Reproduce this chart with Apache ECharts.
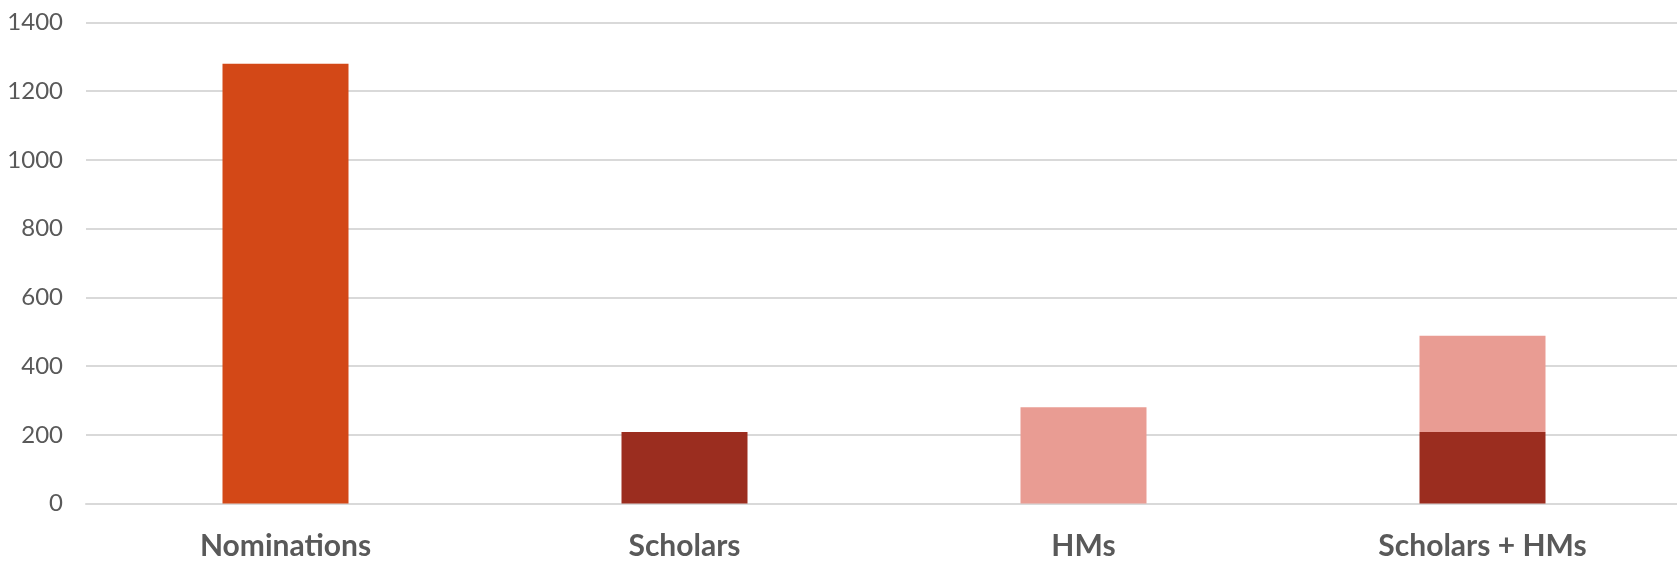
<!DOCTYPE html>
<html>
<head>
<meta charset="utf-8">
<script src="https://cdn.jsdelivr.net/npm/echarts@6/dist/echarts.min.js"></script>
<style>html,body{margin:0;padding:0;background:#fff;}#c{width:1677px;height:564px;}</style>
</head>
<body>
<div id="c"></div>
<script>
const categories = ['Nominations', 'Scholars', 'HMs', 'Scholars + HMs'];
const nominations = [1280, '-', '-', '-'];
const scholars = ['-', 208, '-', 208];
const hms = ['-', '-', 280, 280];
const yTicks = [0, 200, 400, 600, 800, 1000, 1200, 1400];

const chart = echarts.init(document.getElementById('c'), null, {renderer: 'canvas'});
chart.setOption({
  animation: false,
  grid: {left: 86, width: 1596, top: 22.5, bottom: 60.5, containLabel: false, outerBoundsMode: 'none'},
  xAxis: {
    type: 'category',
    data: categories,
    axisLine: {lineStyle: {color: '#d9d9d9', width: 2}},
    axisTick: {show: false},
    axisLabel: {color: '#595959', fontSize: 30, fontWeight: 'bold', fontFamily: 'Lato, "Open Sans", sans-serif', margin: 28}
  },
  yAxis: {
    type: 'value',
    min: yTicks[0],
    max: yTicks[yTicks.length - 1],
    interval: 200,
    axisLine: {show: false},
    axisTick: {show: false},
    splitLine: {lineStyle: {color: '#d9d9d9', width: 2}},
    axisLabel: {color: '#595959', fontSize: 24, fontFamily: 'Lato, "Open Sans", sans-serif', margin: 23, formatter: function (v) { return String(v); }}
  },
  series: [
    {name: 'Nominations', type: 'bar', stack: 't', data: nominations, barWidth: 126, itemStyle: {color: '#D34817'}},
    {name: 'Scholars', type: 'bar', stack: 't', data: scholars, barWidth: 126, itemStyle: {color: '#9B2D1F'}},
    {name: 'HMs', type: 'bar', stack: 't', data: hms, barWidth: 126, itemStyle: {color: '#E99C93'}}
  ]
});
</script>
</body>
</html>
